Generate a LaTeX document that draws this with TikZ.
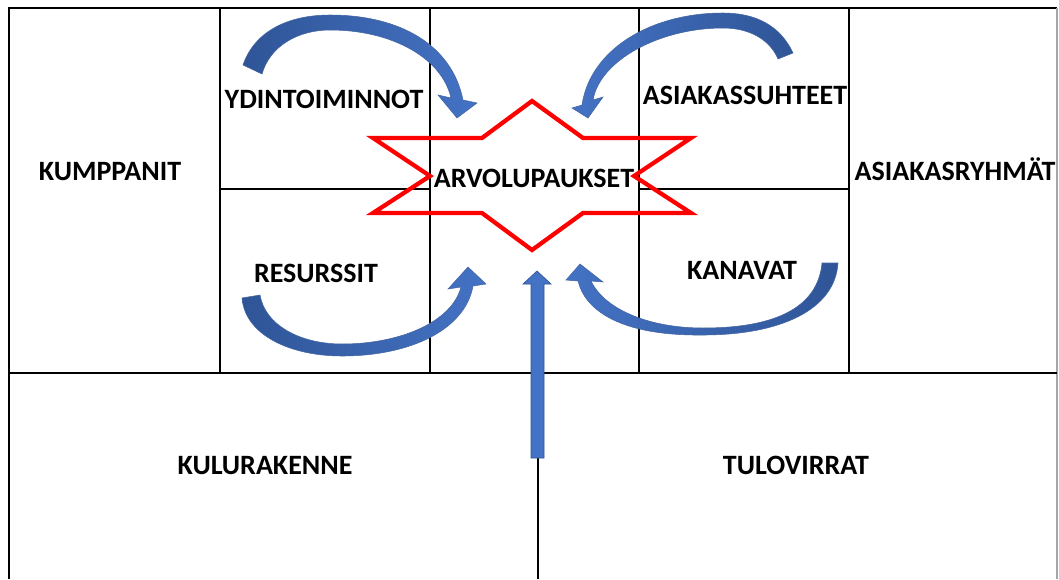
\documentclass[tikz,border=0pt]{standalone}
\usepackage{fontspec}
\setmainfont{Carlito}
\usepackage{tikz}
\usetikzlibrary{positioning,calc}
\definecolor{arrowBlue}{HTML}{4472C4}
\definecolor{arrowDark}{HTML}{2F5597}
\definecolor{starRed}{HTML}{FF0000}

\begin{document}
\begin{tikzpicture}[x=0.75pt, y=-0.75pt,
    frameStyle/.style={draw=black, line width=1.3pt},
    gridStyle/.style={draw=black, line width=1pt},
    labelStyle/.style={font=\fontsize{21}{24}\selectfont\bfseries, anchor=base, inner sep=0pt},
    starStyle/.style={draw=starRed, line width=3.2pt, line join=miter},
    curveArrowL/.style={left color=arrowDark, right color=arrowBlue, draw=arrowDark!90, line width=0.4pt},
    curveArrowR/.style={left color=arrowBlue, right color=arrowDark, draw=arrowDark!90, line width=0.4pt},
    upArrowStyle/.style={fill=arrowBlue, draw=arrowDark, line width=0.5pt}
]
    \useasboundingbox (0,0) rectangle (1059,579);

    % canvas grid
    \draw[frameStyle] (9,579) -- (9,8) -- (1057,8);
    \draw[draw=black!35, line width=0.8pt] (1057,8) -- (1057,579);
    \foreach \xcol in {220,430,639,849}
        \draw[gridStyle] (\xcol,8) -- (\xcol,373);
    \draw[gridStyle] (9,373) -- (1057,373);
    \draw[gridStyle] (220,189) -- (430,189);
    \draw[gridStyle] (639,189) -- (849,189);
    \draw[gridStyle] (538,373) -- (538,579);

    % value proposition star
    \draw[starStyle] (373,138) -- (482,138) -- (532,101) -- (583,138) -- (691,138) -- (634,176)
        -- (691,213) -- (583,213) -- (532,250) -- (482,213) -- (373,213) -- (430,176) -- cycle;

    % block labels
    \node[labelStyle] (kumppanit) at (110,180) {KUMPPANIT};
    \node[labelStyle] (ydin) at (324,108) {YDINTOIMINNOT};
    \node[labelStyle] (resurssit) at (316,282) {RESURSSIT};
    \node[labelStyle] (arvo) at (534,187) {ARVOLUPAUKSET};
    \node[labelStyle] (suhteet) at (745,104) {ASIAKASSUHTEET};
    \node[labelStyle] (kanavat) at (742,279) {KANAVAT};
    \node[labelStyle] (ryhmat) at (955,180) {ASIAKASRYHMÄT};
    \node[labelStyle] (kulut) at (265,474) {KULURAKENNE};
    \node[labelStyle] (tulot) at (796,474) {TULOVIRRAT};

    % curved arrows into the star
    \path[curveArrowL] (243,65) .. controls (255,30) and (290,15) .. (330,15)
        .. controls (400,15) and (452,45) .. (463,100) -- (477,103) -- (457,118) -- (438,95) -- (451,98)
        .. controls (442,58) and (392,30) .. (330,30) .. controls (298,30) and (270,46) .. (262,74) -- cycle;
    \path[curveArrowR] (793,53) .. controls (780,25) and (755,13) .. (723,13)
        .. controls (650,13) and (590,50) .. (582,105) -- (572,108) -- (588,118) -- (603,97) -- (593,100)
        .. controls (600,60) and (660,28) .. (723,28) .. controls (750,28) and (770,40) .. (778,59) -- cycle;
    \path[curveArrowL] (242,298) .. controls (245,335) and (290,356) .. (342,356)
        .. controls (410,356) and (465,330) .. (473,286) -- (486,284) -- (468,267) -- (448,289) -- (461,287)
        .. controls (452,322) and (400,344) .. (342,344) .. controls (300,344) and (265,325) .. (260,295) -- cycle;
    \path[curveArrowR] (838,263) .. controls (835,310) and (780,335) .. (703,335)
        .. controls (620,336) and (585,310) .. (578,281) -- (566,280) -- (580,264) -- (603,282) -- (591,281)
        .. controls (605,310) and (650,328) .. (703,328) .. controls (780,328) and (818,305) .. (822,263) -- cycle;

    % straight arrow from the bottom row
    \path[upArrowStyle] (531,458) -- (531,284) -- (523,284) -- (537,271) -- (551,284) -- (544,284)
        -- (544,458) -- cycle;
\end{tikzpicture}
\end{document}
